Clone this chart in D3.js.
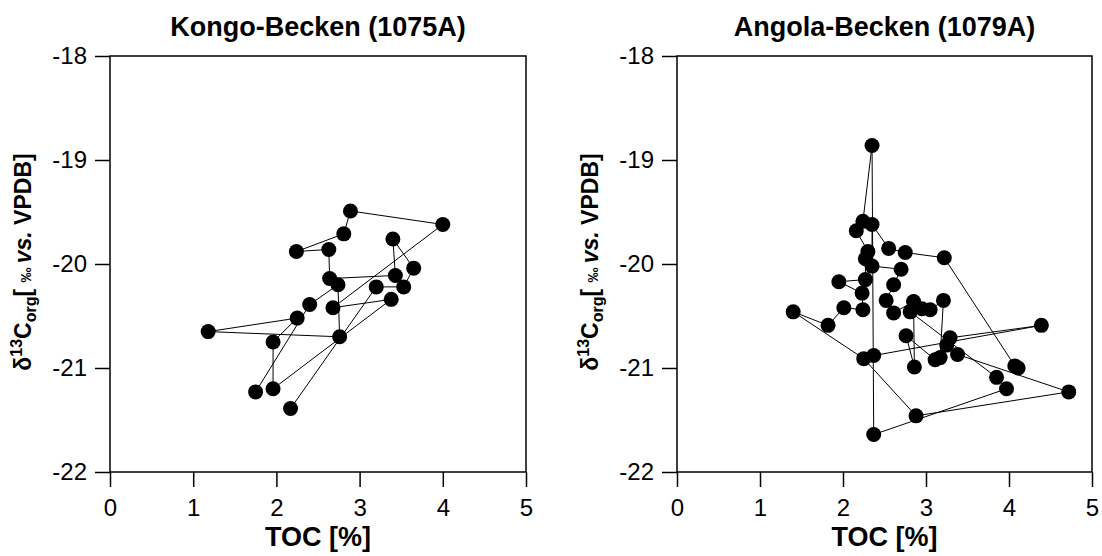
<!DOCTYPE html>
<html><head><meta charset="utf-8">
<script src="https://cdn.jsdelivr.net/npm/d3@7/dist/d3.min.js"></script>
<style>body{margin:0;background:#fff}svg{display:block}text{font-family:"Liberation Sans",Arial,sans-serif}</style>
</head><body>
<svg id="chart" width="1102" height="556"></svg>
<script>
const xTicks = [0,1,2,3,4,5];
const yTicks = [-18,-19,-20,-21,-22];
const titles = ["Kongo-Becken (1075A)", "Angola-Becken (1079A)"];

// Site 1075A, in sample order
const kongoTOC = [2.17,3.20,3.53,3.65,3.40,3.43,2.64,2.63,2.24,2.81,2.89,4.00,2.68,3.38,1.96,1.96,2.25,1.18,2.76,2.74,2.40,1.75];
const kongoD13C = [-21.39,-20.22,-20.22,-20.04,-19.76,-20.11,-20.14,-19.86,-19.88,-19.71,-19.49,-19.62,-20.42,-20.34,-21.20,-20.75,-20.52,-20.65,-20.70,-20.20,-20.39,-21.23];

// Site 1079A, in sample order
const angolaTOC = [2.37,4.39,3.29,3.25,3.38,4.72,2.88,2.25,1.40,1.82,2.01,2.24,2.23,1.95,2.27,2.27,2.30,2.16,2.24,2.35,2.37,3.97,3.85,2.81,2.95,3.05,3.21,3.17,3.11,2.76,2.86,2.85,2.61,2.52,2.61,2.70,2.35,2.35,2.55,2.75,3.22,4.07,4.11];
const angolaD13C = [-20.88,-20.59,-20.71,-20.78,-20.87,-21.23,-21.46,-20.91,-20.46,-20.59,-20.42,-20.44,-20.28,-20.17,-20.15,-19.95,-19.88,-19.68,-19.59,-18.86,-21.64,-21.20,-21.09,-20.46,-20.43,-20.44,-20.35,-20.90,-20.92,-20.69,-20.99,-20.36,-20.47,-20.35,-20.20,-20.05,-20.02,-19.62,-19.85,-19.89,-19.94,-20.98,-21.00];

const svg = d3.select("#chart");
const panels = [
  {left:110, right:526, title:titles[0], toc:kongoTOC, d:kongoD13C},
  {left:677, right:1092, title:titles[1], toc:angolaTOC, d:angolaD13C}
];
const plotTop = 56, plotBottom = 472;
const FONT = '"Liberation Sans",Arial,sans-serif';

panels.forEach(p => {
  const x = d3.scaleLinear().domain([0,5]).range([p.left, p.right]);
  const y = d3.scaleLinear().domain([-22,-18]).range([plotBottom, plotTop]);
  const g = svg.append("g");

  g.append("rect").attr("x", p.left).attr("y", plotTop).attr("width", p.right-p.left).attr("height", plotBottom-plotTop)
    .attr("fill","none").attr("stroke","#000").attr("stroke-width",1.5);

  const xAxis = g.append("g").attr("transform",`translate(0,${plotBottom})`)
    .call(d3.axisBottom(x).tickValues(xTicks).tickFormat(d3.format("d")).tickSize(15).tickPadding(12));
  const yAxis = g.append("g").attr("transform",`translate(${p.left},0)`)
    .call(d3.axisLeft(y).tickValues(yTicks).tickFormat(d=>String(d)).tickSize(15).tickPadding(8));
  [xAxis,yAxis].forEach(a=>{
    a.select(".domain").remove();
    a.selectAll("line").attr("stroke","#000").attr("stroke-width",1.5);
    a.selectAll("text").attr("fill","#000").style("font-size","24px").style("font-family",FONT);
  });

  g.append("text").attr("x",(p.left+p.right)/2).attr("y",36).attr("text-anchor","middle")
    .style("font-size","27px").style("font-weight","bold").text(p.title);
  g.append("text").attr("x",(p.left+p.right)/2).attr("y",546).attr("text-anchor","middle")
    .style("font-size","27px").style("font-weight","bold").text("TOC [%]");
  const yl = g.append("text").attr("transform",`translate(${p.left-79},${(plotTop+plotBottom)/2 - 2}) rotate(-90)`)
    .attr("text-anchor","middle").style("font-size","23px").style("font-weight","bold");
  yl.append("tspan").text("\u03B4");
  yl.append("tspan").attr("dy",-9).style("font-size","16px").text("13");
  yl.append("tspan").attr("dy",9).text("C");
  yl.append("tspan").attr("dy",5).style("font-size","16px").text("org");
  yl.append("tspan").attr("dy",-5).text("[ ");
  yl.append("tspan").style("font-size","15px").text("\u2030 ");
  yl.append("tspan").style("font-style","italic").text("vs.");
  yl.append("tspan").text(" VPDB]");

  const pts = p.toc.map((t,i)=>[t,p.d[i]]);
  g.append("path").datum(pts)
    .attr("d", d3.line().x(d=>x(d[0])).y(d=>y(d[1])))
    .attr("fill","none").attr("stroke","#000").attr("stroke-width",1);
  g.selectAll("circle").data(pts).join("circle")
    .attr("cx",d=>x(d[0])).attr("cy",d=>y(d[1])).attr("r",7.5).attr("fill","#000");
});
</script>
</body></html>
